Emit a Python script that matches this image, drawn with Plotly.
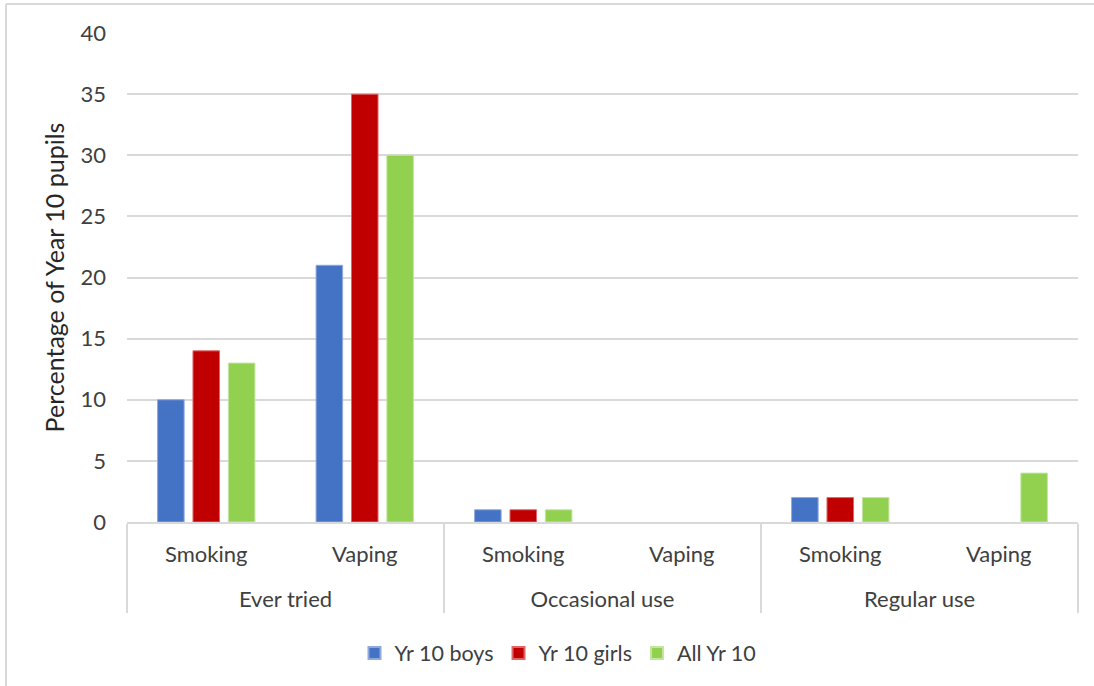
import plotly.graph_objects as go

# Survey categories (outer level) and substance (inner level)
groups = ["Ever tried", "Ever tried", "Occasional use", "Occasional use", "Regular use", "Regular use"]
substances = ["Smoking", "Vaping", "Smoking", "Vaping", "Smoking", "Vaping"]

# Percentage of Year 10 pupils in each category
boys = [10, 21, 1, 0, 2, 0]
girls = [14, 35, 1, 0, 2, 0]
all_yr10 = [13, 30, 1, 0, 2, 4]

series_names = ["Yr 10 boys", "Yr 10 girls", "All Yr 10"]
series_colors = ["#4472C4", "#C00000", "#92D050"]
series_edges = ["#8FA9DC", "#E06666", "#C2E5A0"]

y_ticks = [0, 5, 10, 15, 20, 25, 30, 35, 40]

W, H = 1094, 686
L, R, T, B = 127, 16, 33, 164
FONT = "Lato"
TEXT = "#404040"
GRID = "#D9D9D9"

# inner labels get an extra blank partial line so the outer row sits lower
inner_labels = [s + "<br><span style='font-size:19px'> </span>" for s in substances]

fig = go.Figure()
for name, vals, col, edge in zip(series_names, [boys, girls, all_yr10], series_colors, series_edges):
    fig.add_trace(go.Bar(
        x=[groups, inner_labels],
        y=vals,
        name=name,
        marker=dict(color=col,
                    line=dict(color=edge, width=[1 if v > 0 else 0 for v in vals])),
    ))

# light frame around the chart (left and top edges visible)
pw = W - L - R
ph = H - T - B
def px_x(px):
    return (px - L) / pw
def px_y(py):
    return 1 - (py - T) / ph

fig.add_shape(type="line", xref="paper", yref="paper",
              x0=px_x(6), x1=px_x(W + 5), y0=px_y(4), y1=px_y(4),
              line=dict(color=GRID, width=2))
fig.add_shape(type="line", xref="paper", yref="paper",
              x0=px_x(6), x1=px_x(6), y0=px_y(4), y1=px_y(H + 5),
              line=dict(color=GRID, width=2))

fig.update_layout(
    width=W, height=H,
    margin=dict(l=L, r=R, t=T, b=B, pad=0),
    paper_bgcolor="white", plot_bgcolor="white",
    barmode="group", bargap=0.33, bargroupgap=0.25,
    font=dict(family=FONT, size=22, color=TEXT),
    showlegend=True,
    legend=dict(orientation="h", x=px_x(558), xanchor="center", y=px_y(653), yanchor="middle",
                font=dict(family=FONT, size=21.5, color=TEXT), itemsizing="constant",
                traceorder="normal"),
)

fig.update_yaxes(
    range=[0, 40], tickvals=y_ticks,
    showgrid=True, gridcolor=GRID, gridwidth=2,
    zeroline=False, showline=False,
    ticks="", ticklabelstandoff=20,
    tickfont=dict(family=FONT, size=22, color=TEXT),
    title=dict(text="Percentage of Year 10 pupils", standoff=8,
               font=dict(family=FONT, size=25, color="#262626")),
)

fig.update_xaxes(
    type="multicategory",
    showline=True, linecolor=GRID, linewidth=2,
    showdividers=True, dividercolor=GRID, dividerwidth=2,
    ticks="", ticklabelstandoff=12,
    tickfont=dict(family=FONT, size=22, color=TEXT),
    showgrid=False,
)

fig.write_html("out.html")
